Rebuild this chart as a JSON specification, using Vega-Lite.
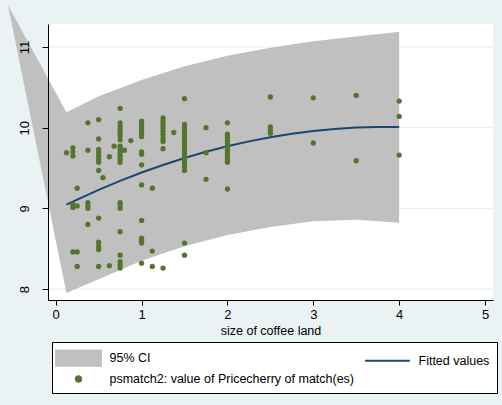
{
  "$schema": "https://vega.github.io/schema/vega-lite/v6.json",
  "width": 445,
  "height": 276,
  "autosize": {"type": "none"},
  "padding": {"left": 48, "top": 24, "right": 9, "bottom": 105},
  "background": "#eaf2f3",
  "config": {
    "font": "Liberation Sans",
    "view": {"fill": "white", "stroke": null},
    "axis": {"labelColor": "black", "titleColor": "black", "tickColor": "black", "domainColor": "black", "titleFontWeight": "normal", "labelFontSize": 13, "titleFontSize": 12.5, "domainWidth": 1, "tickWidth": 1, "labelFont": "Liberation Sans", "titleFont": "Liberation Sans"},
    "legend": {
      "orient": "none", "legendX": 4, "legendY": 318, "direction": "horizontal",
      "columns": 2, "columnPadding": 6, "rowPadding": -1, "padding": 7,
      "labelFontSize": 12.5, "labelColor": "black", "labelFont": "Liberation Sans", "labelLimit": 400,
      "symbolSize": 256, "symbolStrokeWidth": 2, "symbolOffset": 10.5, "labelOffset": 22
    }
  },
  "datasets": {
    "gridvals": [{"level": 8}, {"level": 9}, {"level": 10}, {"level": 11}],
    "ci": [
      {"series": "95% CI", "x": -0.557, "y": 11.52, "y2": 11.52},
      {"series": "95% CI", "x": 0.125, "y": 7.95, "y2": 10.19},
      {"series": "95% CI", "x": 0.5, "y": 8.12, "y2": 10.39},
      {"series": "95% CI", "x": 1, "y": 8.35, "y2": 10.59},
      {"series": "95% CI", "x": 1.5, "y": 8.53, "y2": 10.76},
      {"series": "95% CI", "x": 2, "y": 8.67, "y2": 10.89},
      {"series": "95% CI", "x": 2.5, "y": 8.77, "y2": 10.99},
      {"series": "95% CI", "x": 3, "y": 8.84, "y2": 11.07},
      {"series": "95% CI", "x": 3.5, "y": 8.86, "y2": 11.13},
      {"series": "95% CI", "x": 4, "y": 8.82, "y2": 11.19}
    ],
    "fit": [
      {"series": "Fitted values", "x": 0.125, "y": 9.045},
      {"series": "Fitted values", "x": 0.25, "y": 9.109},
      {"series": "Fitted values", "x": 0.5, "y": 9.229},
      {"series": "Fitted values", "x": 0.75, "y": 9.341},
      {"series": "Fitted values", "x": 1, "y": 9.444},
      {"series": "Fitted values", "x": 1.25, "y": 9.538},
      {"series": "Fitted values", "x": 1.5, "y": 9.624},
      {"series": "Fitted values", "x": 1.75, "y": 9.701},
      {"series": "Fitted values", "x": 2, "y": 9.77},
      {"series": "Fitted values", "x": 2.25, "y": 9.83},
      {"series": "Fitted values", "x": 2.5, "y": 9.881},
      {"series": "Fitted values", "x": 2.75, "y": 9.924},
      {"series": "Fitted values", "x": 3, "y": 9.958},
      {"series": "Fitted values", "x": 3.25, "y": 9.984},
      {"series": "Fitted values", "x": 3.5, "y": 10.001},
      {"series": "Fitted values", "x": 3.75, "y": 10.009},
      {"series": "Fitted values", "x": 4, "y": 10.009}
    ],
    "pts": [
      {"series": "psmatch2: value of Pricecherry of match(es)", "x": 0.125, "y": 9.69},
      {"series": "psmatch2: value of Pricecherry of match(es)", "x": 0.2, "y": 9.75},
      {"series": "psmatch2: value of Pricecherry of match(es)", "x": 0.2, "y": 9.7},
      {"series": "psmatch2: value of Pricecherry of match(es)", "x": 0.2, "y": 9.65},
      {"series": "psmatch2: value of Pricecherry of match(es)", "x": 0.2, "y": 9.05},
      {"series": "psmatch2: value of Pricecherry of match(es)", "x": 0.2, "y": 9.01},
      {"series": "psmatch2: value of Pricecherry of match(es)", "x": 0.2, "y": 8.46},
      {"series": "psmatch2: value of Pricecherry of match(es)", "x": 0.25, "y": 9.25},
      {"series": "psmatch2: value of Pricecherry of match(es)", "x": 0.25, "y": 9.03},
      {"series": "psmatch2: value of Pricecherry of match(es)", "x": 0.25, "y": 8.46},
      {"series": "psmatch2: value of Pricecherry of match(es)", "x": 0.25, "y": 8.28},
      {"series": "psmatch2: value of Pricecherry of match(es)", "x": 0.375, "y": 10.06},
      {"series": "psmatch2: value of Pricecherry of match(es)", "x": 0.375, "y": 9.72},
      {"series": "psmatch2: value of Pricecherry of match(es)", "x": 0.375, "y": 9.07},
      {"series": "psmatch2: value of Pricecherry of match(es)", "x": 0.375, "y": 9.03},
      {"series": "psmatch2: value of Pricecherry of match(es)", "x": 0.375, "y": 9.0},
      {"series": "psmatch2: value of Pricecherry of match(es)", "x": 0.375, "y": 8.8},
      {"series": "psmatch2: value of Pricecherry of match(es)", "x": 0.5, "y": 10.1},
      {"series": "psmatch2: value of Pricecherry of match(es)", "x": 0.5, "y": 9.86},
      {"series": "psmatch2: value of Pricecherry of match(es)", "x": 0.5, "y": 9.73},
      {"series": "psmatch2: value of Pricecherry of match(es)", "x": 0.5, "y": 9.69},
      {"series": "psmatch2: value of Pricecherry of match(es)", "x": 0.5, "y": 9.65},
      {"series": "psmatch2: value of Pricecherry of match(es)", "x": 0.5, "y": 9.61},
      {"series": "psmatch2: value of Pricecherry of match(es)", "x": 0.5, "y": 9.57},
      {"series": "psmatch2: value of Pricecherry of match(es)", "x": 0.5, "y": 9.47},
      {"series": "psmatch2: value of Pricecherry of match(es)", "x": 0.5, "y": 8.88},
      {"series": "psmatch2: value of Pricecherry of match(es)", "x": 0.5, "y": 8.58},
      {"series": "psmatch2: value of Pricecherry of match(es)", "x": 0.5, "y": 8.53},
      {"series": "psmatch2: value of Pricecherry of match(es)", "x": 0.5, "y": 8.49},
      {"series": "psmatch2: value of Pricecherry of match(es)", "x": 0.5, "y": 8.28},
      {"series": "psmatch2: value of Pricecherry of match(es)", "x": 0.55, "y": 9.38},
      {"series": "psmatch2: value of Pricecherry of match(es)", "x": 0.625, "y": 9.64},
      {"series": "psmatch2: value of Pricecherry of match(es)", "x": 0.625, "y": 8.29},
      {"series": "psmatch2: value of Pricecherry of match(es)", "x": 0.68, "y": 9.77},
      {"series": "psmatch2: value of Pricecherry of match(es)", "x": 0.75, "y": 10.24},
      {"series": "psmatch2: value of Pricecherry of match(es)", "x": 0.75, "y": 10.06},
      {"series": "psmatch2: value of Pricecherry of match(es)", "x": 0.75, "y": 10.02},
      {"series": "psmatch2: value of Pricecherry of match(es)", "x": 0.75, "y": 9.98},
      {"series": "psmatch2: value of Pricecherry of match(es)", "x": 0.75, "y": 9.94},
      {"series": "psmatch2: value of Pricecherry of match(es)", "x": 0.75, "y": 9.9},
      {"series": "psmatch2: value of Pricecherry of match(es)", "x": 0.75, "y": 9.85},
      {"series": "psmatch2: value of Pricecherry of match(es)", "x": 0.75, "y": 9.77},
      {"series": "psmatch2: value of Pricecherry of match(es)", "x": 0.75, "y": 9.73},
      {"series": "psmatch2: value of Pricecherry of match(es)", "x": 0.75, "y": 9.69},
      {"series": "psmatch2: value of Pricecherry of match(es)", "x": 0.75, "y": 9.65},
      {"series": "psmatch2: value of Pricecherry of match(es)", "x": 0.75, "y": 9.61},
      {"series": "psmatch2: value of Pricecherry of match(es)", "x": 0.75, "y": 9.57},
      {"series": "psmatch2: value of Pricecherry of match(es)", "x": 0.75, "y": 9.07},
      {"series": "psmatch2: value of Pricecherry of match(es)", "x": 0.75, "y": 9.04},
      {"series": "psmatch2: value of Pricecherry of match(es)", "x": 0.75, "y": 9.0},
      {"series": "psmatch2: value of Pricecherry of match(es)", "x": 0.75, "y": 8.71},
      {"series": "psmatch2: value of Pricecherry of match(es)", "x": 0.75, "y": 8.42},
      {"series": "psmatch2: value of Pricecherry of match(es)", "x": 0.75, "y": 8.34},
      {"series": "psmatch2: value of Pricecherry of match(es)", "x": 0.75, "y": 8.3},
      {"series": "psmatch2: value of Pricecherry of match(es)", "x": 0.75, "y": 8.26},
      {"series": "psmatch2: value of Pricecherry of match(es)", "x": 0.8, "y": 9.72},
      {"series": "psmatch2: value of Pricecherry of match(es)", "x": 0.875, "y": 9.84},
      {"series": "psmatch2: value of Pricecherry of match(es)", "x": 1, "y": 10.08},
      {"series": "psmatch2: value of Pricecherry of match(es)", "x": 1, "y": 10.04},
      {"series": "psmatch2: value of Pricecherry of match(es)", "x": 1, "y": 10.0},
      {"series": "psmatch2: value of Pricecherry of match(es)", "x": 1, "y": 9.96},
      {"series": "psmatch2: value of Pricecherry of match(es)", "x": 1, "y": 9.92},
      {"series": "psmatch2: value of Pricecherry of match(es)", "x": 1, "y": 9.89},
      {"series": "psmatch2: value of Pricecherry of match(es)", "x": 1, "y": 9.7},
      {"series": "psmatch2: value of Pricecherry of match(es)", "x": 1, "y": 9.67},
      {"series": "psmatch2: value of Pricecherry of match(es)", "x": 1, "y": 9.54},
      {"series": "psmatch2: value of Pricecherry of match(es)", "x": 1, "y": 9.29},
      {"series": "psmatch2: value of Pricecherry of match(es)", "x": 1, "y": 8.85},
      {"series": "psmatch2: value of Pricecherry of match(es)", "x": 1, "y": 8.63},
      {"series": "psmatch2: value of Pricecherry of match(es)", "x": 1, "y": 8.6},
      {"series": "psmatch2: value of Pricecherry of match(es)", "x": 1, "y": 8.57},
      {"series": "psmatch2: value of Pricecherry of match(es)", "x": 1, "y": 8.32},
      {"series": "psmatch2: value of Pricecherry of match(es)", "x": 1.125, "y": 9.25},
      {"series": "psmatch2: value of Pricecherry of match(es)", "x": 1.125, "y": 8.47},
      {"series": "psmatch2: value of Pricecherry of match(es)", "x": 1.125, "y": 8.28},
      {"series": "psmatch2: value of Pricecherry of match(es)", "x": 1.25, "y": 10.12},
      {"series": "psmatch2: value of Pricecherry of match(es)", "x": 1.25, "y": 10.08},
      {"series": "psmatch2: value of Pricecherry of match(es)", "x": 1.25, "y": 10.04},
      {"series": "psmatch2: value of Pricecherry of match(es)", "x": 1.25, "y": 10.0},
      {"series": "psmatch2: value of Pricecherry of match(es)", "x": 1.25, "y": 9.96},
      {"series": "psmatch2: value of Pricecherry of match(es)", "x": 1.25, "y": 9.92},
      {"series": "psmatch2: value of Pricecherry of match(es)", "x": 1.25, "y": 9.87},
      {"series": "psmatch2: value of Pricecherry of match(es)", "x": 1.25, "y": 9.83},
      {"series": "psmatch2: value of Pricecherry of match(es)", "x": 1.25, "y": 9.74},
      {"series": "psmatch2: value of Pricecherry of match(es)", "x": 1.25, "y": 8.26},
      {"series": "psmatch2: value of Pricecherry of match(es)", "x": 1.375, "y": 9.94},
      {"series": "psmatch2: value of Pricecherry of match(es)", "x": 1.5, "y": 10.36},
      {"series": "psmatch2: value of Pricecherry of match(es)", "x": 1.5, "y": 10.04},
      {"series": "psmatch2: value of Pricecherry of match(es)", "x": 1.5, "y": 10.0},
      {"series": "psmatch2: value of Pricecherry of match(es)", "x": 1.5, "y": 9.96},
      {"series": "psmatch2: value of Pricecherry of match(es)", "x": 1.5, "y": 9.92},
      {"series": "psmatch2: value of Pricecherry of match(es)", "x": 1.5, "y": 9.88},
      {"series": "psmatch2: value of Pricecherry of match(es)", "x": 1.5, "y": 9.84},
      {"series": "psmatch2: value of Pricecherry of match(es)", "x": 1.5, "y": 9.8},
      {"series": "psmatch2: value of Pricecherry of match(es)", "x": 1.5, "y": 9.76},
      {"series": "psmatch2: value of Pricecherry of match(es)", "x": 1.5, "y": 9.72},
      {"series": "psmatch2: value of Pricecherry of match(es)", "x": 1.5, "y": 9.68},
      {"series": "psmatch2: value of Pricecherry of match(es)", "x": 1.5, "y": 9.64},
      {"series": "psmatch2: value of Pricecherry of match(es)", "x": 1.5, "y": 9.6},
      {"series": "psmatch2: value of Pricecherry of match(es)", "x": 1.5, "y": 9.56},
      {"series": "psmatch2: value of Pricecherry of match(es)", "x": 1.5, "y": 9.52},
      {"series": "psmatch2: value of Pricecherry of match(es)", "x": 1.5, "y": 9.47},
      {"series": "psmatch2: value of Pricecherry of match(es)", "x": 1.5, "y": 8.57},
      {"series": "psmatch2: value of Pricecherry of match(es)", "x": 1.5, "y": 8.42},
      {"series": "psmatch2: value of Pricecherry of match(es)", "x": 1.75, "y": 10.0},
      {"series": "psmatch2: value of Pricecherry of match(es)", "x": 1.75, "y": 9.69},
      {"series": "psmatch2: value of Pricecherry of match(es)", "x": 1.75, "y": 9.36},
      {"series": "psmatch2: value of Pricecherry of match(es)", "x": 2, "y": 10.06},
      {"series": "psmatch2: value of Pricecherry of match(es)", "x": 2, "y": 9.92},
      {"series": "psmatch2: value of Pricecherry of match(es)", "x": 2, "y": 9.88},
      {"series": "psmatch2: value of Pricecherry of match(es)", "x": 2, "y": 9.84},
      {"series": "psmatch2: value of Pricecherry of match(es)", "x": 2, "y": 9.8},
      {"series": "psmatch2: value of Pricecherry of match(es)", "x": 2, "y": 9.76},
      {"series": "psmatch2: value of Pricecherry of match(es)", "x": 2, "y": 9.72},
      {"series": "psmatch2: value of Pricecherry of match(es)", "x": 2, "y": 9.68},
      {"series": "psmatch2: value of Pricecherry of match(es)", "x": 2, "y": 9.64},
      {"series": "psmatch2: value of Pricecherry of match(es)", "x": 2, "y": 9.6},
      {"series": "psmatch2: value of Pricecherry of match(es)", "x": 2, "y": 9.57},
      {"series": "psmatch2: value of Pricecherry of match(es)", "x": 2, "y": 9.24},
      {"series": "psmatch2: value of Pricecherry of match(es)", "x": 2.5, "y": 10.38},
      {"series": "psmatch2: value of Pricecherry of match(es)", "x": 2.5, "y": 10.01},
      {"series": "psmatch2: value of Pricecherry of match(es)", "x": 2.5, "y": 9.97},
      {"series": "psmatch2: value of Pricecherry of match(es)", "x": 2.5, "y": 9.93},
      {"series": "psmatch2: value of Pricecherry of match(es)", "x": 3, "y": 10.37},
      {"series": "psmatch2: value of Pricecherry of match(es)", "x": 3, "y": 9.81},
      {"series": "psmatch2: value of Pricecherry of match(es)", "x": 3.5, "y": 10.4},
      {"series": "psmatch2: value of Pricecherry of match(es)", "x": 3.5, "y": 9.59},
      {"series": "psmatch2: value of Pricecherry of match(es)", "x": 4, "y": 10.33},
      {"series": "psmatch2: value of Pricecherry of match(es)", "x": 4, "y": 10.14},
      {"series": "psmatch2: value of Pricecherry of match(es)", "x": 4, "y": 9.66}
    ]
  },
  "layer": [
    {
      "data": {"name": "gridvals"},
      "mark": {"type": "rule", "color": "#e3ecee", "strokeWidth": 1},
      "encoding": {
        "y": {"field": "level", "type": "quantitative",
          "scale": {"domain": [7.864, 11.285], "nice": false, "zero": false},
          "axis": {"values": [8, 9, 10, 11], "title": null, "grid": false, "tickSize": 6, "labelAngle": 270, "labelAlign": "center", "labelBaseline": "bottom", "labelPadding": 11, "labelFlush": false, "zindex": 1}}
      }
    },
    {
      "data": {"name": "ci"},
      "mark": {"type": "area", "clip": false, "opacity": 1},
      "encoding": {
        "x": {"field": "x", "type": "quantitative",
          "scale": {"domain": [-0.09, 5.093], "nice": false, "zero": false},
          "axis": {"values": [0, 1, 2, 3, 4, 5], "title": "size of coffee land", "grid": false, "tickSize": 5, "labelPadding": 3, "titlePadding": 3, "labelFlush": false, "zindex": 1}},
        "y": {"field": "y", "type": "quantitative",
          "scale": {"domain": [7.864, 11.285], "nice": false, "zero": false},
          "axis": {"values": [8, 9, 10, 11], "title": null, "grid": false, "tickSize": 6, "labelAngle": 270, "labelAlign": "center", "labelBaseline": "bottom", "labelPadding": 11, "labelFlush": false, "zindex": 1}},
        "y2": {"field": "y2"},
        "color": {
          "field": "series", "type": "nominal",
          "scale": {"domain": ["95% CI", "Fitted values", "psmatch2: value of Pricecherry of match(es)"], "range": ["#c0c0c0", "#1a476f", "#55752f"]},
          "legend": {
            "title": null,
            "encode": {
              "legend": {"update": {"fill": {"value": "white"}, "stroke": {"value": "black"}, "strokeWidth": {"value": 1}}},
              "symbols": {
                "update": {
                  "shape": {"signal": "datum.value === '95% CI' ? 'M-2.8,-0.95H2.8V0.95H-2.8Z' : datum.value === 'Fitted values' ? 'M-2.8,0H2.8' : 'M-0.34,0A0.34,0.34,0,1,1,0.34,0A0.34,0.34,0,1,1,-0.34,0Z'"},
                  "size": {"value": 256},
                  "fill": {"signal": "datum.value === '95% CI' ? '#c0c0c0' : datum.value === 'Fitted values' ? 'transparent' : '#55752f'"},
                  "stroke": {"signal": "datum.value === 'Fitted values' ? '#1a476f' : 'transparent'"},
                  "strokeWidth": {"value": 2},
                  "opacity": {"value": 1}
                }
              }
            }
          }
        }
      }
    },
    {
      "data": {"name": "fit"},
      "mark": {"type": "line", "strokeWidth": 2},
      "encoding": {
        "x": {"field": "x", "type": "quantitative",
          "scale": {"domain": [-0.09, 5.093], "nice": false, "zero": false},
          "axis": {"values": [0, 1, 2, 3, 4, 5], "title": "size of coffee land", "grid": false, "tickSize": 5, "labelPadding": 3, "titlePadding": 3, "labelFlush": false, "zindex": 1}},
        "y": {"field": "y", "type": "quantitative",
          "scale": {"domain": [7.864, 11.285], "nice": false, "zero": false},
          "axis": {"values": [8, 9, 10, 11], "title": null, "grid": false, "tickSize": 6, "labelAngle": 270, "labelAlign": "center", "labelBaseline": "bottom", "labelPadding": 11, "labelFlush": false, "zindex": 1}},
        "color": {
          "field": "series", "type": "nominal",
          "legend": {
            "title": null,
            "encode": {
              "legend": {"update": {"fill": {"value": "white"}, "stroke": {"value": "black"}, "strokeWidth": {"value": 1}}},
              "symbols": {
                "update": {
                  "shape": {"signal": "datum.value === '95% CI' ? 'M-2.8,-0.95H2.8V0.95H-2.8Z' : datum.value === 'Fitted values' ? 'M-2.8,0H2.8' : 'M-0.34,0A0.34,0.34,0,1,1,0.34,0A0.34,0.34,0,1,1,-0.34,0Z'"},
                  "size": {"value": 256},
                  "fill": {"signal": "datum.value === '95% CI' ? '#c0c0c0' : datum.value === 'Fitted values' ? 'transparent' : '#55752f'"},
                  "stroke": {"signal": "datum.value === 'Fitted values' ? '#1a476f' : 'transparent'"},
                  "strokeWidth": {"value": 2},
                  "opacity": {"value": 1}
                }
              }
            }
          }
        }
      }
    },
    {
      "data": {"name": "pts"},
      "mark": {"type": "circle", "size": 28, "opacity": 1},
      "encoding": {
        "x": {"field": "x", "type": "quantitative",
          "scale": {"domain": [-0.09, 5.093], "nice": false, "zero": false},
          "axis": {"values": [0, 1, 2, 3, 4, 5], "title": "size of coffee land", "grid": false, "tickSize": 5, "labelPadding": 3, "titlePadding": 3, "labelFlush": false, "zindex": 1}},
        "y": {"field": "y", "type": "quantitative",
          "scale": {"domain": [7.864, 11.285], "nice": false, "zero": false},
          "axis": {"values": [8, 9, 10, 11], "title": null, "grid": false, "tickSize": 6, "labelAngle": 270, "labelAlign": "center", "labelBaseline": "bottom", "labelPadding": 11, "labelFlush": false, "zindex": 1}},
        "color": {
          "field": "series", "type": "nominal",
          "legend": {
            "title": null,
            "encode": {
              "legend": {"update": {"fill": {"value": "white"}, "stroke": {"value": "black"}, "strokeWidth": {"value": 1}}},
              "symbols": {
                "update": {
                  "shape": {"signal": "datum.value === '95% CI' ? 'M-2.8,-0.95H2.8V0.95H-2.8Z' : datum.value === 'Fitted values' ? 'M-2.8,0H2.8' : 'M-0.34,0A0.34,0.34,0,1,1,0.34,0A0.34,0.34,0,1,1,-0.34,0Z'"},
                  "size": {"value": 256},
                  "fill": {"signal": "datum.value === '95% CI' ? '#c0c0c0' : datum.value === 'Fitted values' ? 'transparent' : '#55752f'"},
                  "stroke": {"signal": "datum.value === 'Fitted values' ? '#1a476f' : 'transparent'"},
                  "strokeWidth": {"value": 2},
                  "opacity": {"value": 1}
                }
              }
            }
          }
        }
      }
    }
  ]
}
